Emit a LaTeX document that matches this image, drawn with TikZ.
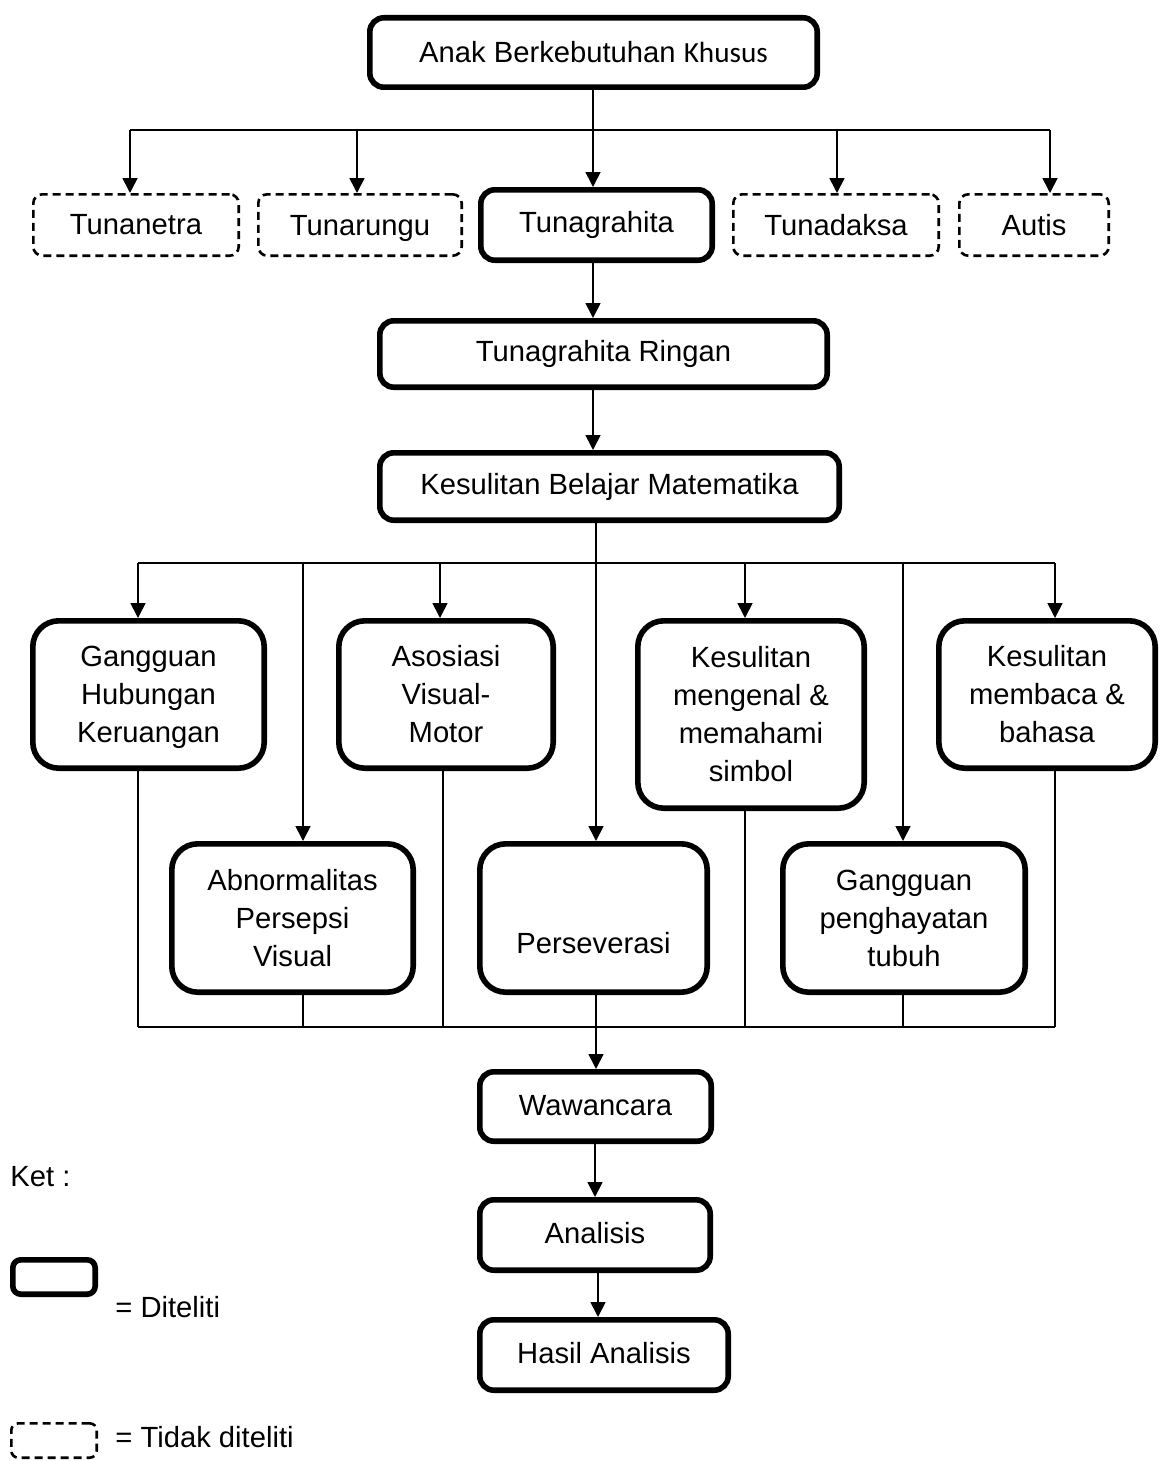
\documentclass[tikz,border=0pt]{standalone}
\usepackage{fontspec}
\setmainfont{Liberation Sans}
\newfontfamily\carlito{Carlito}
\usetikzlibrary{arrows.meta}
\newcommand{\nodepth}[1]{\raisebox{0pt}[\height][0pt]{#1}}
\begin{document}
\begin{tikzpicture}[x=0.5pt,y=-0.5pt,
  txtfont/.style={font=\fontsize{14.6}{19}\selectfont},
  solidbox/.style={draw, line width=2.8pt, rounded corners=7pt, inner sep=0pt, align=center, txtfont},
  rowbox/.style={solidbox, rounded corners=13pt},
  dashbox/.style={draw, line width=1.3pt, dash pattern=on 4pt off 2.5pt, rounded corners=4.5pt, inner sep=0pt, align=center, txtfont},
  conn/.style={line width=0.85pt},
  arr/.style={conn, -{Triangle[length=7.5pt,width=7.5pt]}},
  plain/.style={inner sep=0pt, txtfont}
]
\useasboundingbox (0,0) rectangle (1160,1461);

% top level
\node[solidbox, minimum width=223.7pt, minimum height=34.7pt] (anak) at (593.5,52.5) {\raisebox{1pt}{Anak Berkebutuhan {\carlito Khusus}}};

\node[dashbox, minimum width=102.7pt, minimum height=30.7pt] (tnetra) at (136,225) {Tunanetra};
\node[dashbox, minimum width=101.7pt, minimum height=30.7pt] (trungu) at (360,225) {\nodepth{Tunarungu}};
\node[solidbox, minimum width=115.7pt, minimum height=35.2pt] (tgrahita) at (596.5,225) {\raisebox{2pt}{Tunagrahita}};
\node[dashbox, minimum width=102.7pt, minimum height=30.7pt] (tdaksa) at (836,225) {Tunadaksa};
\node[dashbox, minimum width=74.7pt, minimum height=30.7pt] (autis) at (1034,225) {Autis};

\node[solidbox, minimum width=223.7pt, minimum height=33.2pt] (ringan) at (603.5,354) {\raisebox{2pt}{Tunagrahita Ringan}};
\node[solidbox, minimum width=229.7pt, minimum height=33.7pt] (kbm) at (609.5,486.5) {\raisebox{2pt}{Kesulitan Belajar Matematika}};

% row 1
\node[rowbox, minimum width=115.7pt, minimum height=73.7pt] (ghk) at (148.5,694.5) {Gangguan\\Hubungan\\\nodepth{Keruangan}};
\node[rowbox, minimum width=107.2pt, minimum height=73.7pt] (avm) at (446,694.5) {Asosiasi\\Visual-\\Motor};
\node[rowbox, minimum width=113.2pt, minimum height=93.7pt] (kms) at (751,714.5) {Kesulitan\\mengenal \&\\memahami\\simbol};
\node[rowbox, minimum width=108.2pt, minimum height=73.7pt] (kmb) at (1047,694.5) {Kesulitan\\membaca \&\\bahasa};

% row 2
\node[rowbox, minimum width=120.7pt, minimum height=74.2pt] (apv) at (292.5,918) {Abnormalitas\\Persepsi\\Visual};
\node[rowbox, minimum width=113.7pt, minimum height=74.2pt] (pers) at (593.5,918) {};
\node[plain] (perstext) at ([yshift=-12.5pt]pers.center) {Perseverasi};
\node[rowbox, minimum width=121.2pt, minimum height=74.2pt] (gpt) at (904,918) {Gangguan\\penghayatan\\tubuh};

% bottom
\node[solidbox, minimum width=115.7pt, minimum height=34.7pt] (waw) at (595.5,1106.5) {\raisebox{1.5pt}{Wawancara}};
\node[solidbox, minimum width=115.2pt, minimum height=35.2pt] (ana) at (595,1235) {\raisebox{2.5pt}{Analisis}};
\node[solidbox, minimum width=124.2pt, minimum height=35.2pt] (hasil) at (604,1355) {\raisebox{2pt}{Hasil Analisis}};

% legend
\node[plain, anchor=west] (ket) at (10,1177) {Ket :};
\node[solidbox, rounded corners=4pt, minimum width=41.2pt, minimum height=17.2pt] (lsolid) at (54,1277) {};
\node[plain, anchor=west] (ldit) at (115,1307) {= Diteliti};
\node[dashbox, rounded corners=3.5pt, minimum width=42.7pt, minimum height=17.2pt] (ldash) at (54,1440.5) {};
\node[plain, anchor=west] (ltidak) at (115,1437) {= Tidak diteliti};

% coordinates
\coordinate (sp) at (593,130);
\coordinate (b1) at (130,130);
\coordinate (b2) at (357,130);
\coordinate (b4) at (837,130);
\coordinate (b5) at (1050,130);

% top connectors
\draw[conn] (b1) -- (b5);
\draw[arr] (anak.south -| sp) -- (tgrahita.north -| sp);
\draw[arr] (b1) -- (b1 |- tnetra.north);
\draw[arr] (b2) -- (b2 |- trungu.north);
\draw[arr] (b4) -- (b4 |- tdaksa.north);
\draw[arr] (b5) -- (b5 |- autis.north);
\draw[arr] (tgrahita.south -| sp) -- (ringan.north -| sp);
\draw[arr] (ringan.south -| sp) -- (kbm.north -| sp);

% middle bus
\coordinate (m0) at (596,563);
\coordinate (m1) at (138,563);
\coordinate (m2) at (303,563);
\coordinate (m3) at (440,563);
\coordinate (m5) at (745,563);
\coordinate (m6) at (903,563);
\coordinate (m7) at (1055,563);
\draw[conn] (m1) -- (m7);
\draw[arr] (kbm.south -| m0) -- (pers.north -| m0);
\draw[arr] (m1) -- (m1 |- ghk.north);
\draw[arr] (m2) -- (m2 |- apv.north);
\draw[arr] (m3) -- (m3 |- avm.north);
\draw[arr] (m5) -- (m5 |- kms.north);
\draw[arr] (m6) -- (m6 |- gpt.north);
\draw[arr] (m7) -- (m7 |- kmb.north);

% lower bus
\coordinate (l1) at (138,1027);
\coordinate (l2) at (303,1027);
\coordinate (l3) at (443,1027);
\coordinate (l5) at (745,1027);
\coordinate (l6) at (903,1027);
\coordinate (l7) at (1055,1027);
\draw[conn] (l1) -- (l7);
\draw[conn] (ghk.south -| l1) -- (l1);
\draw[conn] (apv.south -| l2) -- (l2);
\draw[conn] (avm.south -| l3) -- (l3);
\draw[conn] (kms.south -| l5) -- (l5);
\draw[conn] (gpt.south -| l6) -- (l6);
\draw[conn] (kmb.south -| l7) -- (l7);
\draw[arr] (pers.south -| m0) -- (waw.north -| m0);

\coordinate (w0) at (595,0);
\coordinate (a0) at (598,0);
\draw[arr] (waw.south -| w0) -- (ana.north -| w0);
\draw[arr] (ana.south -| a0) -- (hasil.north -| a0);
\end{tikzpicture}
\end{document}
